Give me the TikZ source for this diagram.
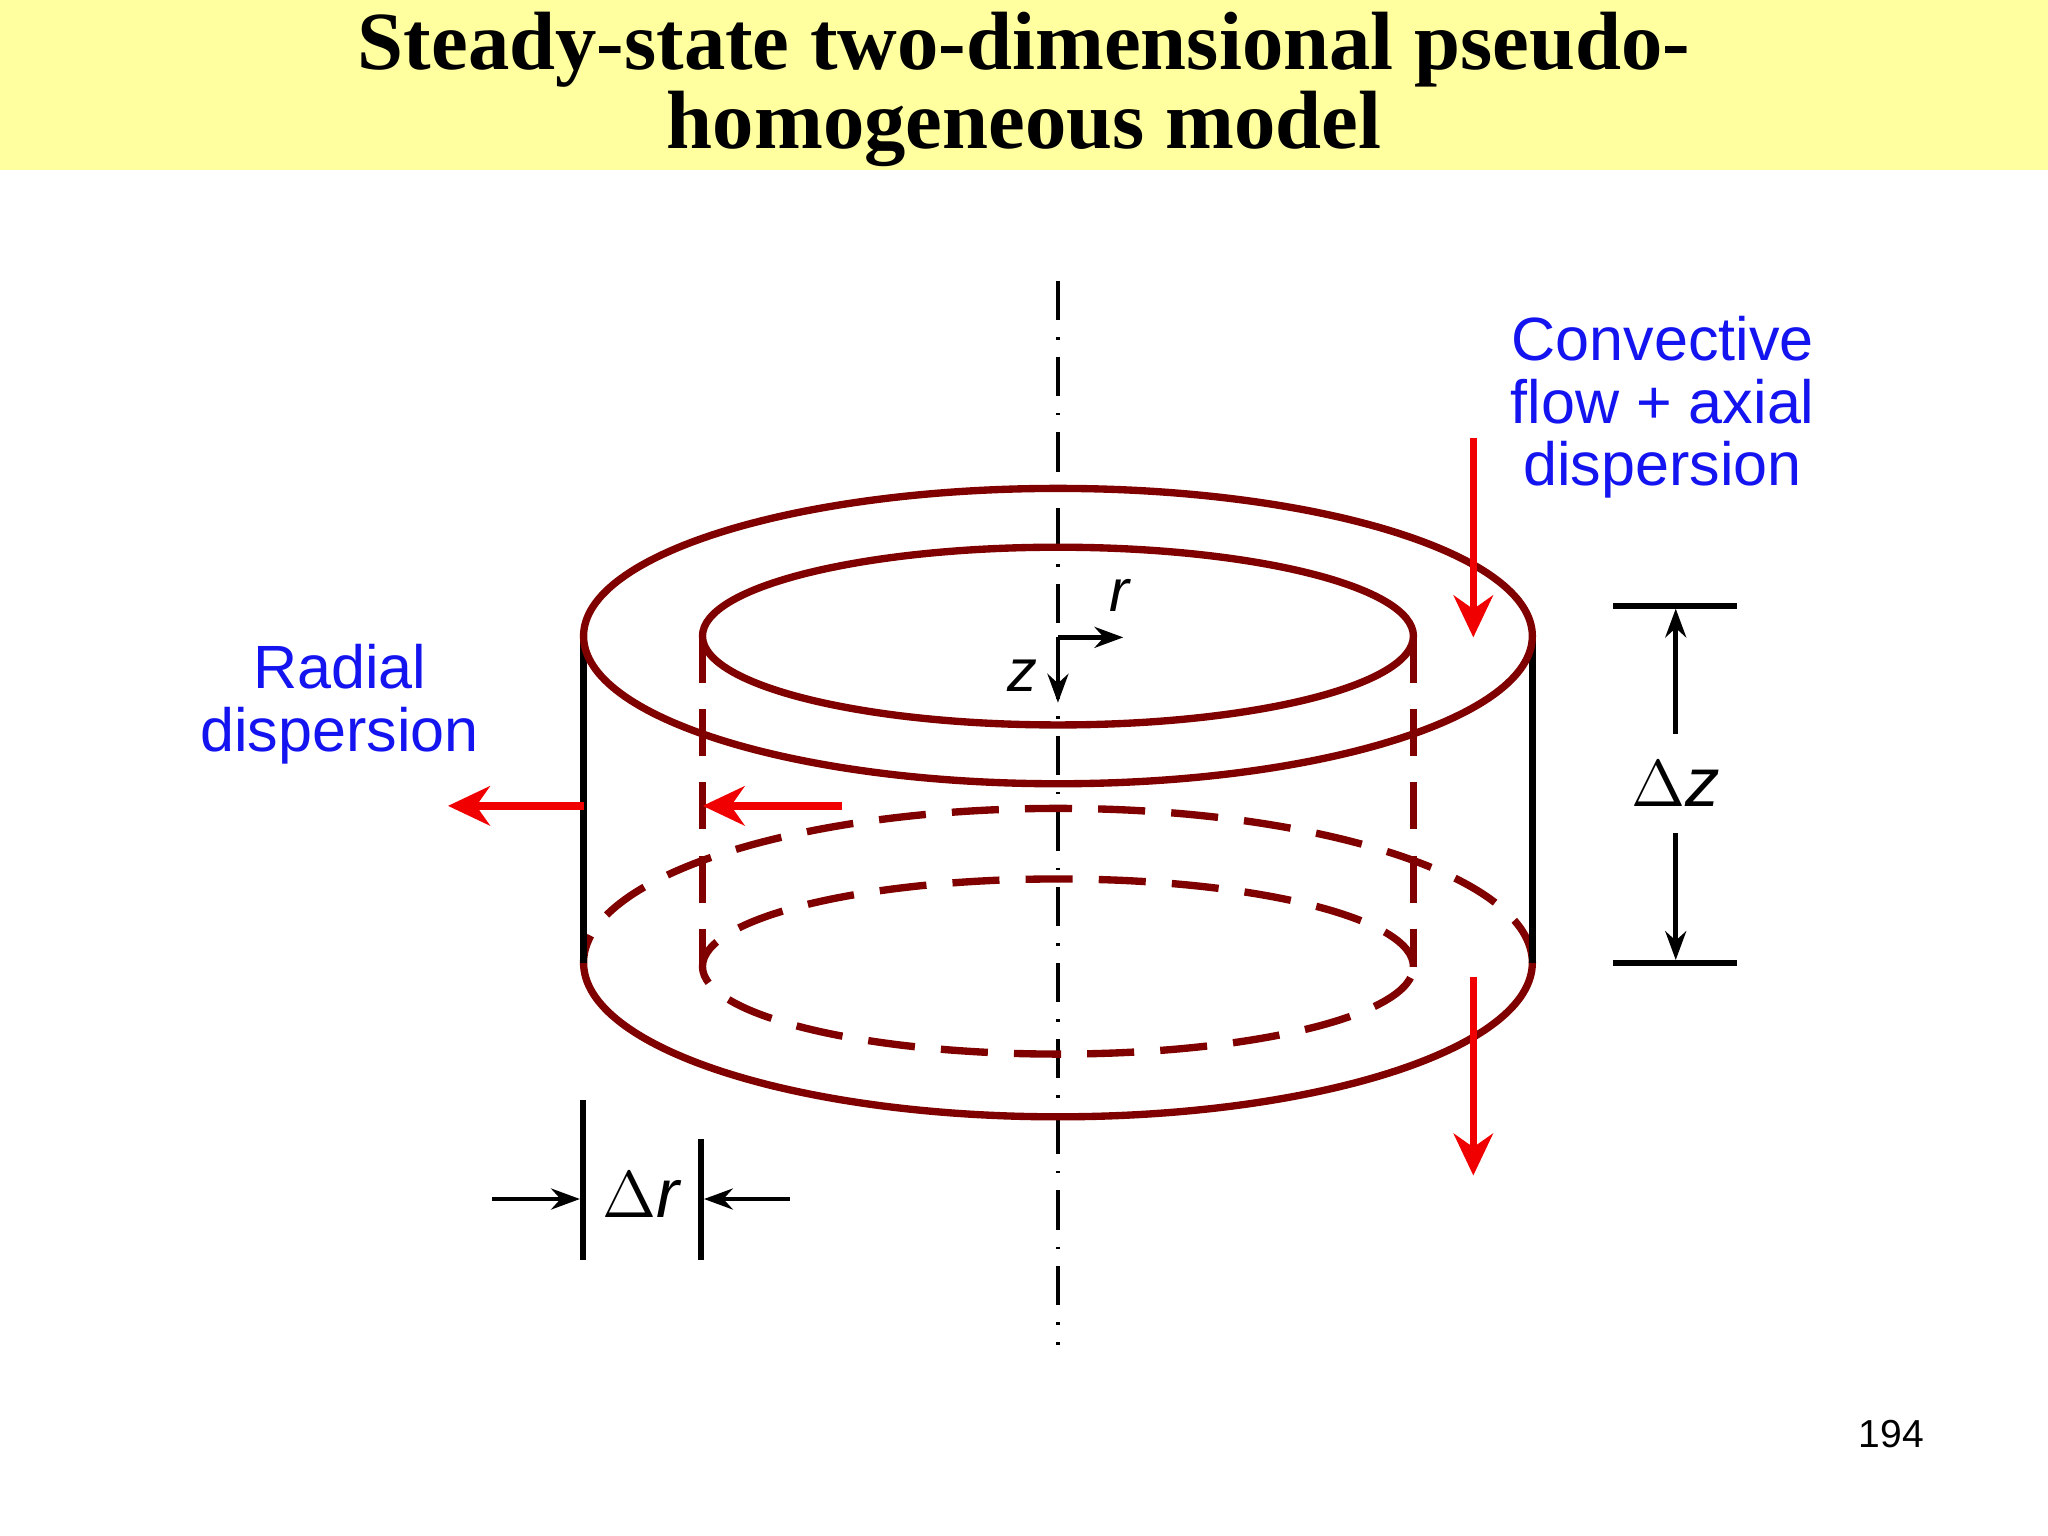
\documentclass[tikz,border=0pt]{standalone}
\usepackage{fontspec}
\setmainfont{Liberation Serif}
\setsansfont{Liberation Sans}
\usetikzlibrary{arrows.meta}
\definecolor{band}{RGB}{255,255,160}
\definecolor{dred}{RGB}{128,0,0}
\definecolor{bred}{RGB}{240,0,0}
\definecolor{lblue}{RGB}{20,20,240}
\tikzset{
 ring/.style={draw=dred,line width=1.6pt},
 hid/.style={ring,dash pattern=on 0.36cm off 0.2cm},
 redarr/.style={draw=bred,line width=1.6pt,-{Stealth[length=0.32cm,width=0.3cm]}},
 blkarr/.style={draw=black,line width=1pt,-{Stealth[length=0.22cm,width=0.16cm]}},
 lbl/.style={font=\sffamily\fontsize{13.3}{15.6}\selectfont,text=lblue,align=center}
}
\begin{document}
\begin{tikzpicture}[x=0.01cm,y=-0.01cm]
\useasboundingbox (0,0) rectangle (1568,1176);
\fill[white] (0,0) rectangle (1568,1176);
\fill[band] (0,0) rectangle (1568,130);
\node (t1) at (784,38) {\bfseries\fontsize{18}{21}\selectfont Steady-state two-dimensional pseudo-};
\node (t2) at (784,99) {\bfseries\fontsize{18}{21}\selectfont homogeneous model};
% axis
\draw[line width=0.9pt,dash pattern=on 0.3cm off 0.13cm on 0.02cm off 0.13cm] (810,215) -- (810,1030);
% bottom
\draw[hid] (810,737) ++(3.63cm,0) arc[start angle=0,end angle=180,x radius=3.63cm,y radius=1.18cm];
\draw[ring] (810,737) ++(-3.63cm,0) arc[start angle=180,end angle=360,x radius=3.63cm,y radius=1.18cm];
\draw[hid] (810,740) ellipse[x radius=2.72cm,y radius=0.67cm];
\draw[hid] (538,487) -- (538,740);
\draw[hid] (1082,487) -- (1082,740);
\draw[black,line width=1.5pt] (447,487) -- (447,737);
\draw[black,line width=1.5pt] (1173,487) -- (1173,737);
% top
\draw[ring] (810,487) ellipse[x radius=3.63cm,y radius=1.13cm];
\draw[ring] (810,487) ellipse[x radius=2.72cm,y radius=0.68cm];
% red arrows
\coordinate (a1) at (1128,335); \coordinate (a2) at (1128,488);
\coordinate (a3) at (1128,748); \coordinate (a4) at (1128,900);
\coordinate (a5) at (447,617); \coordinate (a6) at (343,617);
\coordinate (a7) at (645,617); \coordinate (a8) at (538,617);
\draw[redarr] (a1) -- (a2);
\draw[redarr] (a3) -- (a4);
\draw[redarr] (a5) -- (a6);
\draw[redarr] (a7) -- (a8);
% labels
\node[lbl] (rd) at (260,539) {Radial\\[-2pt]dispersion};
\node[lbl] (cv) at (1273,312) {Convective\\[-2pt]flow + axial\\[-2pt]dispersion};
% r z
\coordinate (o) at (810,488); \coordinate (rr) at (860,488); \coordinate (zz) at (810,538);
\draw[blkarr] (o) -- (rr);
\draw[blkarr] (o) -- (zz);
\node[font=\sffamily\itshape\fontsize{13}{15}\selectfont] (rl) at (857,456) {r};
\node[font=\sffamily\itshape\fontsize{13}{15}\selectfont] (zl) at (783,517) {z};
% delta z
\draw[black,line width=1.3pt] (1235,464) -- (1330,464);
\draw[black,line width=1.3pt] (1235,737) -- (1330,737);
\coordinate (d1) at (1283,562); \coordinate (d2) at (1283,466);
\coordinate (d3) at (1283,638); \coordinate (d4) at (1283,735);
\draw[blkarr] (d1) -- (d2);
\draw[blkarr] (d3) -- (d4);
\node[font=\sffamily\fontsize{15}{18}\selectfont] (dz) at (1283,600) {$\Delta$\textit{z}};
% delta r
\draw[black,line width=1.3pt] (446,842) -- (446,965);
\draw[black,line width=1.3pt] (537,872) -- (537,965);
\coordinate (e1) at (377,918); \coordinate (e2) at (444,918);
\coordinate (e3) at (605,918); \coordinate (e4) at (539,918);
\draw[blkarr] (e1) -- (e2);
\draw[blkarr] (e3) -- (e4);
\node[font=\sffamily\fontsize{15}{18}\selectfont] (dr) at (492,915) {$\Delta$\textit{r}};
\node[font=\sffamily\fontsize{8.5}{10}\selectfont] (pg) at (1448,1098) {194};
\end{tikzpicture}
\end{document}
